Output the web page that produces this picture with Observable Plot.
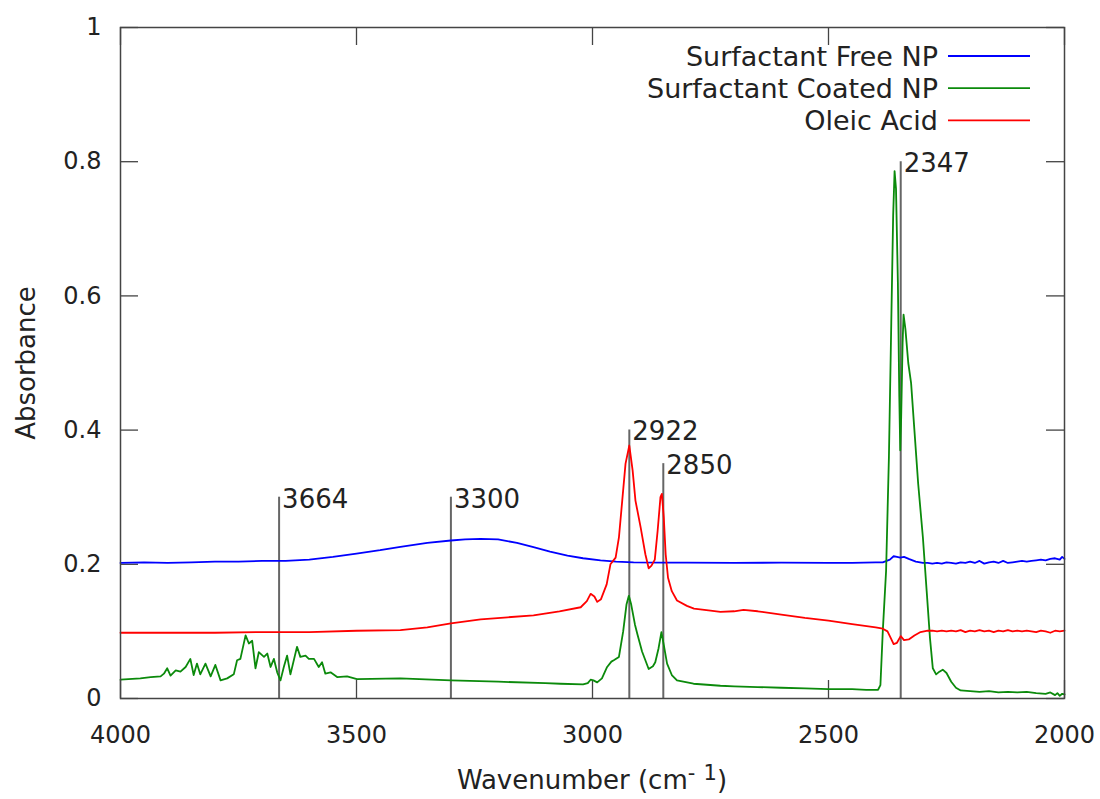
<!DOCTYPE html>
<html>
<head>
<meta charset="utf-8">
<script src="https://cdn.jsdelivr.net/npm/d3@7"></script>
<script src="https://cdn.jsdelivr.net/npm/@observablehq/plot@0.6"></script>
<style>
  body { margin: 0; background: #fff; }
  svg { display: block; }
</style>
</head>
<body>
<div id="chart"></div>
<script>
// ---- data ----
const seriesNames = ["Surfactant Free NP", "Surfactant Coated NP", "Oleic Acid"];
const seriesColors = ["#0000ff", "#0b8a0b", "#ff0000"];

const freeWn = [4000,3950,3900,3850,3800,3750,3700,3650,3600,3550,3500,3450,3407,3350,3300,3270,3237,3200,3160,3125,3090,3053,3020,2983,2950,2913,2850,2800,2700,2600,2500,2450,2400,2385,2370,2362,2355,2348,2340,2330,2315,2300,2290,2280,2270,2260,2250,2240,2230,2220,2210,2200,2190,2180,2170,2160,2150,2140,2130,2120,2110,2100,2090,2080,2070,2060,2050,2040,2030,2020,2010,2005,2000];
const freeAbs = [0.202,0.203,0.202,0.203,0.204,0.204,0.205,0.205,0.207,0.211,0.216,0.221,0.226,0.232,0.2355,0.237,0.238,0.237,0.232,0.2255,0.219,0.213,0.209,0.2057,0.204,0.203,0.2025,0.2025,0.202,0.2025,0.202,0.202,0.203,0.203,0.207,0.212,0.211,0.210,0.211,0.208,0.204,0.202,0.202,0.201,0.202,0.201,0.203,0.202,0.201,0.203,0.202,0.204,0.202,0.205,0.201,0.203,0.204,0.202,0.205,0.202,0.203,0.204,0.205,0.204,0.205,0.206,0.207,0.206,0.208,0.209,0.207,0.211,0.208];

const coatedWn = [4000,3958,3936,3915,3908,3901,3894,3883,3873,3862,3852,3845,3838,3831,3820,3809,3799,3788,3774,3760,3753,3746,3735,3728,3721,3714,3707,3696,3689,3682,3675,3668,3661,3654,3647,3640,3626,3619,3608,3601,3590,3580,3573,3566,3555,3541,3520,3499,3407,3300,3200,3100,3068,3020,3010,3004,2998,2990,2980,2969,2960,2955,2944,2935,2928,2923,2918,2910,2905,2895,2881,2872,2867,2860,2854,2849,2842,2832,2821,2786,2729,2700,2650,2600,2550,2500,2450,2420,2400,2395,2390,2385,2378,2372,2367,2363,2360,2357,2353,2350,2348,2346,2343,2341,2337,2331,2325,2318,2310,2300,2292,2285,2279,2272,2265,2258,2250,2240,2230,2220,2200,2180,2160,2140,2120,2100,2080,2060,2040,2030,2020,2015,2010,2005,2000];
const coatedAbs = [0.028,0.030,0.032,0.033,0.037,0.045,0.034,0.042,0.040,0.047,0.059,0.035,0.052,0.036,0.052,0.033,0.050,0.027,0.030,0.036,0.057,0.059,0.094,0.082,0.086,0.045,0.069,0.062,0.067,0.047,0.059,0.039,0.027,0.047,0.064,0.036,0.077,0.062,0.064,0.059,0.059,0.047,0.054,0.037,0.039,0.032,0.033,0.029,0.030,0.027,0.025,0.023,0.022,0.021,0.023,0.028,0.027,0.024,0.030,0.047,0.055,0.057,0.062,0.100,0.140,0.153,0.140,0.110,0.096,0.070,0.044,0.048,0.054,0.075,0.099,0.080,0.052,0.035,0.027,0.022,0.019,0.018,0.017,0.016,0.015,0.014,0.014,0.013,0.013,0.013,0.020,0.100,0.190,0.360,0.560,0.720,0.786,0.760,0.620,0.450,0.370,0.420,0.530,0.572,0.550,0.500,0.470,0.400,0.320,0.240,0.160,0.090,0.045,0.036,0.040,0.043,0.038,0.025,0.016,0.012,0.011,0.010,0.011,0.009,0.010,0.009,0.010,0.008,0.007,0.009,0.005,0.008,0.004,0.007,0.006];

const oleicWn = [4000,3900,3800,3700,3600,3500,3407,3350,3300,3237,3180,3125,3070,3025,3012,3004,2996,2990,2982,2970,2962,2951,2944,2937,2930,2922,2915,2909,2898,2888,2881,2875,2868,2862,2856,2853,2849,2845,2840,2832,2821,2800,2785,2750,2729,2700,2680,2650,2600,2550,2500,2450,2400,2385,2375,2368,2362,2355,2347,2340,2330,2318,2305,2290,2280,2270,2260,2250,2240,2230,2220,2210,2200,2190,2180,2170,2160,2150,2140,2130,2120,2110,2100,2090,2080,2070,2060,2050,2040,2030,2020,2010,2000];
const oleicAbs = [0.098,0.098,0.098,0.099,0.099,0.101,0.102,0.106,0.112,0.118,0.121,0.124,0.130,0.136,0.145,0.156,0.152,0.144,0.148,0.170,0.200,0.210,0.240,0.295,0.350,0.377,0.340,0.295,0.255,0.215,0.194,0.198,0.207,0.250,0.300,0.305,0.270,0.215,0.180,0.160,0.146,0.138,0.134,0.131,0.129,0.130,0.132,0.130,0.125,0.120,0.116,0.111,0.106,0.104,0.100,0.090,0.081,0.083,0.093,0.087,0.088,0.094,0.099,0.101,0.101,0.100,0.101,0.100,0.101,0.100,0.102,0.099,0.101,0.100,0.102,0.100,0.101,0.099,0.101,0.100,0.102,0.100,0.101,0.100,0.101,0.100,0.099,0.101,0.100,0.098,0.101,0.100,0.101];

const xTicks = [4000, 3500, 3000, 2500, 2000];
const yTicks = [0, 0.2, 0.4, 0.6, 0.8, 1];

const peakWn = [3664, 3300, 2922, 2850, 2347];
const peakTop = [0.30, 0.30, 0.40, 0.35, 0.80];
const peakLabels = ["3664", "3300", "2922", "2850", "2347"];

// x label pieces: [text, superscript?]
const xLabelParts = [["Wavenumber (cm", false], ["-", true], [" ", false], ["1", true], [")", false]];
const yLabel = "Absorbance";

// ---- build tables ----
const spectra = [];
[[freeWn, freeAbs], [coatedWn, coatedAbs], [oleicWn, oleicAbs]].forEach(([wn, ab], i) => {
  wn.forEach((w, j) => spectra.push({series: seriesNames[i], wn: w, abs: ab[j]}));
});
const peaks = peakWn.map((w, i) => ({wn: w, top: peakTop[i], label: peakLabels[i]}));

// ---- layout ----
const W = 1100, H = 799;
const mL = 120, mR = 36, mT = 27, mB = 101;
const plotW = W - mL - mR, plotH = H - mT - mB;
const tickLen = 18;
const axisColor = "#444";
const font = "DejaVu Sans";

function legend() {
  const g = d3.create("svg:g").attr("font-family", font).attr("font-size", 27).attr("fill", "#222");
  const xEnd = W - mR - 34, xStart = xEnd - 82, textX = xStart - 10;
  seriesNames.forEach((name, i) => {
    const y = mT + 29 + i * 32.2;
    g.append("text").attr("x", textX).attr("y", y).attr("text-anchor", "end")
      .attr("dominant-baseline", "central").text(name);
    g.append("line").attr("x1", xStart).attr("x2", xEnd).attr("y1", y).attr("y2", y)
      .attr("stroke", seriesColors[i]).attr("stroke-width", 1.8);
  });
  return g.node();
}

function xTitle() {
  const t = d3.create("svg:text").attr("font-family", font).attr("font-size", 26).attr("fill", "#222")
    .attr("text-anchor", "middle").attr("x", mL + plotW / 2).attr("y", H - 10);
  xLabelParts.forEach(([s, sup]) => {
    const ts = t.append("tspan").attr("xml:space", "preserve").text(s);
    if (sup) ts.attr("font-size", 21).attr("dy", -9);
    else if (s !== "Wavenumber (cm") ts.attr("dy", 9);
  });
  // fix dy sequence: after superscript, return to baseline
  const spans = t.selectAll("tspan").nodes();
  let level = 0;
  spans.forEach((n, i) => {
    const sup = xLabelParts[i][1];
    const target = sup ? -9 : 0;
    n.setAttribute("dy", target - level);
    level = target;
  });
  return t.node();
}

const chart = Plot.plot({
  width: W, height: H,
  marginLeft: mL, marginRight: mR, marginTop: mT, marginBottom: mB,
  style: {fontFamily: font, background: "#fff", color: "#222"},
  x: {domain: [4000, 2000]},
  y: {domain: [0, 1]},
  color: {domain: seriesNames, range: seriesColors},
  marks: [
    // inward ticks
    Plot.ruleX(xTicks, {x: d => d, insetTop: plotH - tickLen, stroke: axisColor, strokeWidth: 1.3}),
    Plot.ruleX(xTicks, {x: d => d, insetBottom: plotH - tickLen, stroke: axisColor, strokeWidth: 1.3}),
    Plot.ruleY(yTicks, {y: d => d, insetRight: plotW - tickLen, stroke: axisColor, strokeWidth: 1.3}),
    Plot.ruleY(yTicks, {y: d => d, insetLeft: plotW - tickLen, stroke: axisColor, strokeWidth: 1.3}),
    Plot.axisX(xTicks, {anchor: "bottom", tickSize: 0, tickPadding: 27, fontSize: 24, label: null, tickFormat: d => String(d)}),
    Plot.axisY(yTicks, {anchor: "left", tickSize: 0, tickPadding: 19, fontSize: 24, label: null, tickFormat: d => d3.format("~g")(d)}),
    // peak marker lines
    Plot.ruleX(peaks, {x: "wn", y1: 0, y2: "top", stroke: "#666", strokeWidth: 2}),
    Plot.text(peaks, {x: "wn", y: "top", text: "label", textAnchor: "start", lineAnchor: "middle", dx: 3, dy: 2, fontSize: 26, fill: "#222"}),
    // spectra
    Plot.line(spectra, {x: "wn", y: "abs", z: "series", stroke: "series", strokeWidth: 1.8, curve: "linear"}),
    Plot.frame({stroke: axisColor, strokeWidth: 1.5}),
    // axis titles
    Plot.text([yLabel], {text: d => d, frameAnchor: "left", rotate: -90, dx: -94, textAnchor: "middle", lineAnchor: "middle", fontSize: 26, fill: "#222"}),
    xTitle,
    legend
  ]
});
document.getElementById("chart").appendChild(chart);
</script>
</body>
</html>
